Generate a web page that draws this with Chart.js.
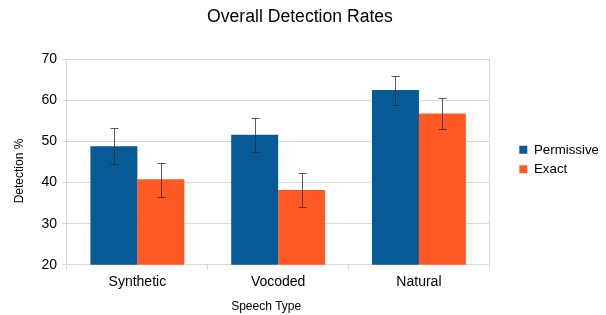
<!DOCTYPE html>
<html><head><meta charset="utf-8">
<script src="https://cdn.jsdelivr.net/npm/chart.js@4/dist/chart.umd.min.js"></script>
<style>html,body{margin:0;padding:0;background:#fff}#w{width:606px;height:315px}</style>
</head><body><div id="w"><canvas id="c"></canvas></div>
<script>
const categories = ['Synthetic', 'Vocoded', 'Natural'];
const permissive = [48.8, 51.6, 62.5];
const exact = [40.8, 38.2, 56.8];
const permissiveLow = [44.6, 47.4, 58.8];
const permissiveHigh = [53.2, 55.8, 66.0];
const exactLow = [36.5, 34.0, 53.1];
const exactHigh = [44.8, 42.3, 60.5];
const yTicks = [20, 30, 40, 50, 60, 70];

const errLow = [permissiveLow, exactLow];
const errHigh = [permissiveHigh, exactHigh];

function shiftTitle(scale, dx, dy) {
  if (!scale || scale._titleShifted) return;
  const orig = scale.drawTitle.bind(scale);
  scale.drawTitle = function () {
    const ctx = this.ctx;
    ctx.save();
    ctx.translate(dx, dy);
    orig();
    ctx.restore();
  };
  scale._titleShifted = true;
}

const errorBars = {
  id: 'errorBars',
  afterInit(chart) {
    const lg = chart.legend;
    if (lg) {
      const f = lg.fit.bind(lg);
      lg.fit = function () { f(); this.width = Math.max(0, this.width - 9); };
    }
  },
  beforeDraw(chart) {
    shiftTitle(chart.scales.x, -12, 0);
    shiftTitle(chart.scales.y, 0, 9);
  },
  afterDatasetsDraw(chart) {
    const ctx = chart.ctx, ys = chart.scales.y;
    ctx.save();
    ctx.strokeStyle = 'rgba(40,40,40,0.75)';
    ctx.lineWidth = 1;
    chart.data.datasets.forEach((ds, i) => {
      const meta = chart.getDatasetMeta(i);
      meta.data.forEach((bar, j) => {
        const x = Math.round(bar.x) + 0.5;
        const t = Math.round(ys.getPixelForValue(errHigh[i][j])) + 0.5;
        const b = Math.round(ys.getPixelForValue(errLow[i][j])) + 0.5;
        ctx.beginPath();
        ctx.moveTo(x, t); ctx.lineTo(x, b);
        ctx.moveTo(x - 4, t); ctx.lineTo(x + 4, t);
        ctx.moveTo(x - 4, b); ctx.lineTo(x + 4, b);
        ctx.stroke();
      });
    });
    ctx.restore();
  }
};

Chart.defaults.font.family = '"Liberation Sans", Arial, sans-serif';
Chart.defaults.color = '#000';

new Chart(document.getElementById('c'), {
  type: 'bar',
  data: {
    labels: categories,
    datasets: [
      { label: 'Permissive', data: permissive, backgroundColor: '#065a96', borderWidth: 0 },
      { label: 'Exact', data: exact, backgroundColor: '#ff5a24', borderWidth: 0 }
    ]
  },
  options: {
    responsive: true,
    maintainAspectRatio: false,
    animation: false,
    devicePixelRatio: 1,
    layout: { padding: { left: 0, right: 6, top: 5, bottom: 1 } },
    datasets: { bar: { categoryPercentage: 0.667, barPercentage: 1.0 } },
    plugins: {
      title: { display: true, text: 'Overall Detection Rates', font: { size: 17.6, weight: 'normal' }, color: '#000', padding: { top: 2, bottom: 31 } },
      legend: {
        position: 'right',
        labels: { boxWidth: 8, boxHeight: 8, font: { size: 13.3 }, padding: 6, color: '#000' }
      },
      tooltip: { enabled: false }
    },
    scales: {
      x: {
        grid: {
          offset: true,
          color: (c) => (c.index === 0) ? '#d9d9d9' : 'rgba(0,0,0,0)',
          tickColor: '#d9d9d9',
          tickLength: 5
        },
        border: { color: '#d9d9d9' },
        ticks: { font: { size: 14 }, color: '#000', padding: 4 },
        title: { display: true, text: 'Speech Type', font: { size: 12 }, color: '#000', padding: { top: 5, bottom: 0 } }
      },
      y: {
        min: 20, max: 70,
        afterBuildTicks: (s) => { s.ticks = yTicks.map(v => ({ value: v })); },
        grid: { color: '#d9d9d9', tickColor: '#d9d9d9', tickLength: 5 },
        border: { color: '#d9d9d9' },
        ticks: { font: { size: 14 }, color: '#000', padding: 5 },
        title: { display: true, text: 'Detection %', font: { size: 12 }, color: '#000', padding: { top: 12, bottom: 10 } }
      },
      y2: {
        position: 'right',
        min: 20, max: 70,
        grid: { drawOnChartArea: false, drawTicks: false },
        border: { color: '#d9d9d9' },
        ticks: { display: false },
        afterFit: (s) => { s.width = 24; }
      }
    }
  },
  plugins: [errorBars]
});
</script></body></html>
